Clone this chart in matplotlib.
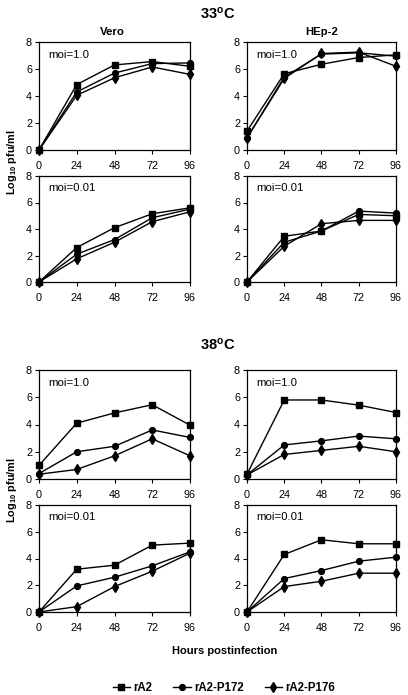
import matplotlib
matplotlib.use("Agg")
import matplotlib.pyplot as plt
from matplotlib.lines import Line2D

plt.rcParams['font.family'] = ['Liberation Sans', 'DejaVu Sans']
plt.rcParams['mathtext.fontset'] = 'custom'
plt.rcParams['mathtext.bf'] = 'Liberation Sans:bold'
plt.rcParams['mathtext.rm'] = 'Liberation Sans'
plt.rcParams['mathtext.default'] = 'bf'

hours = [0, 24, 48, 72, 96]
xticks = [0, 24, 48, 72, 96]
yticks = [0, 2, 4, 6, 8]
strains = ["rA2", "rA2-P172", "rA2-P176"]

# 33C
vero33_moi1 = [[0, 4.85, 6.3, 6.55, 6.2],
               [0, 4.3, 5.7, 6.4, 6.45],
               [0, 4.05, 5.35, 6.15, 5.6]]
hep33_moi1 = [[1.4, 5.65, 6.35, 6.85, 7.05],
              [0.9, 5.4, 7.1, 7.2, 6.95],
              [0.9, 5.3, 7.15, 7.25, 6.2]]
vero33_moi001 = [[0, 2.6, 4.1, 5.15, 5.6],
                 [0, 2.1, 3.2, 4.85, 5.5],
                 [0, 1.75, 3.0, 4.55, 5.3]]
hep33_moi001 = [[0, 3.45, 3.85, 5.1, 5.0],
                [0, 3.0, 3.85, 5.35, 5.2],
                [0, 2.7, 4.4, 4.65, 4.65]]
# 38C
vero38_moi1 = [[1.0, 4.1, 4.85, 5.45, 3.95],
               [0.4, 2.0, 2.4, 3.6, 3.05],
               [0.35, 0.7, 1.7, 2.95, 1.7]]
hep38_moi1 = [[0.35, 5.8, 5.8, 5.42, 4.88],
              [0.3, 2.5, 2.8, 3.15, 2.95],
              [0.3, 1.8, 2.1, 2.4, 2.0]]
vero38_moi001 = [[0, 3.2, 3.5, 5.0, 5.15],
                 [0, 1.95, 2.6, 3.45, 4.5],
                 [0, 0.4, 1.9, 3.05, 4.4]]
hep38_moi001 = [[0, 4.3, 5.4, 5.1, 5.1],
                [0, 2.5, 3.1, 3.8, 4.1],
                [0, 1.9, 2.3, 2.9, 2.9]]

markers = ['s', 'o', 'd']
msizes = [4.4, 4.2, 5.2]

W, H = 408, 695
fig = plt.figure(figsize=(W / 100, H / 100), dpi=100)


def px_axes(l, t, r, b):
    return fig.add_axes([l / W, 1 - b / H, (r - l) / W, (b - t) / H])


def panel(rect, data, moi):
    ax = px_axes(*rect)
    for series, m, ms in zip(data, markers, msizes):
        ax.plot(hours, series, color='black', lw=1.0, marker=m, ms=ms,
                clip_on=False, zorder=3)
    ax.set_xlim(0, 96)
    ax.set_ylim(0, 8)
    ax.set_xticks(xticks)
    ax.set_yticks(yticks)
    ax.tick_params(axis='x', direction='out', length=3, width=0.8, pad=5, labelsize=7.8)
    ax.tick_params(axis='y', direction='out', length=3, width=0.8, pad=2, labelsize=7.8)
    for s in ax.spines.values():
        s.set_linewidth(0.9)
    ax.text(0.06, 0.93, moi, transform=ax.transAxes, fontsize=8.2, va='top', ha='left')
    return ax


cols = [(39, 190), (247, 396)]
rows = [(42, 150), (176, 282), (370, 479), (505, 612)]
grid = [[vero33_moi1, hep33_moi1],
        [vero33_moi001, hep33_moi001],
        [vero38_moi1, hep38_moi1],
        [vero38_moi001, hep38_moi001]]
mois = ["moi=1.0", "moi=0.01", "moi=1.0", "moi=0.01"]

for ri, (t, b) in enumerate(rows):
    for ci, (l, r) in enumerate(cols):
        panel((l, t, r, b), grid[ri][ci], mois[ri])

fig.text(218 / W, 1 - 14 / H, "33$^{o}$C", ha='center', va='center', fontsize=10.5, fontweight='bold')
fig.text(218 / W, 1 - 345 / H, "38$^{o}$C", ha='center', va='center', fontsize=10.5, fontweight='bold')
fig.text(112 / W, 1 - 32 / H, "Vero", ha='center', va='center', fontsize=8.2, fontweight='bold')
fig.text(322 / W, 1 - 32 / H, "HEp-2", ha='center', va='center', fontsize=8.2, fontweight='bold')
for yc in (162, 490):
    fig.text(12 / W, 1 - yc / H, "Log$_{10}$ pfu/ml", ha='center', va='center',
             rotation=90, fontsize=7.8, fontweight='bold')
fig.text(225 / W, 1 - 651 / H, "Hours postinfection", ha='center', va='center',
         fontsize=8, fontweight='bold')

handles = [Line2D([], [], color='black', lw=1.0, marker=m, ms=ms)
           for m, ms in zip(markers, msizes)]
fig.legend(handles, strains, loc='center', bbox_to_anchor=(224 / W, 1 - 688 / H),
           ncol=3, frameon=False, handlelength=1.5, handletextpad=0.3,
           columnspacing=1.8, prop={'weight': 'bold', 'size': 8.3})

fig.savefig("out.png", dpi=100)
